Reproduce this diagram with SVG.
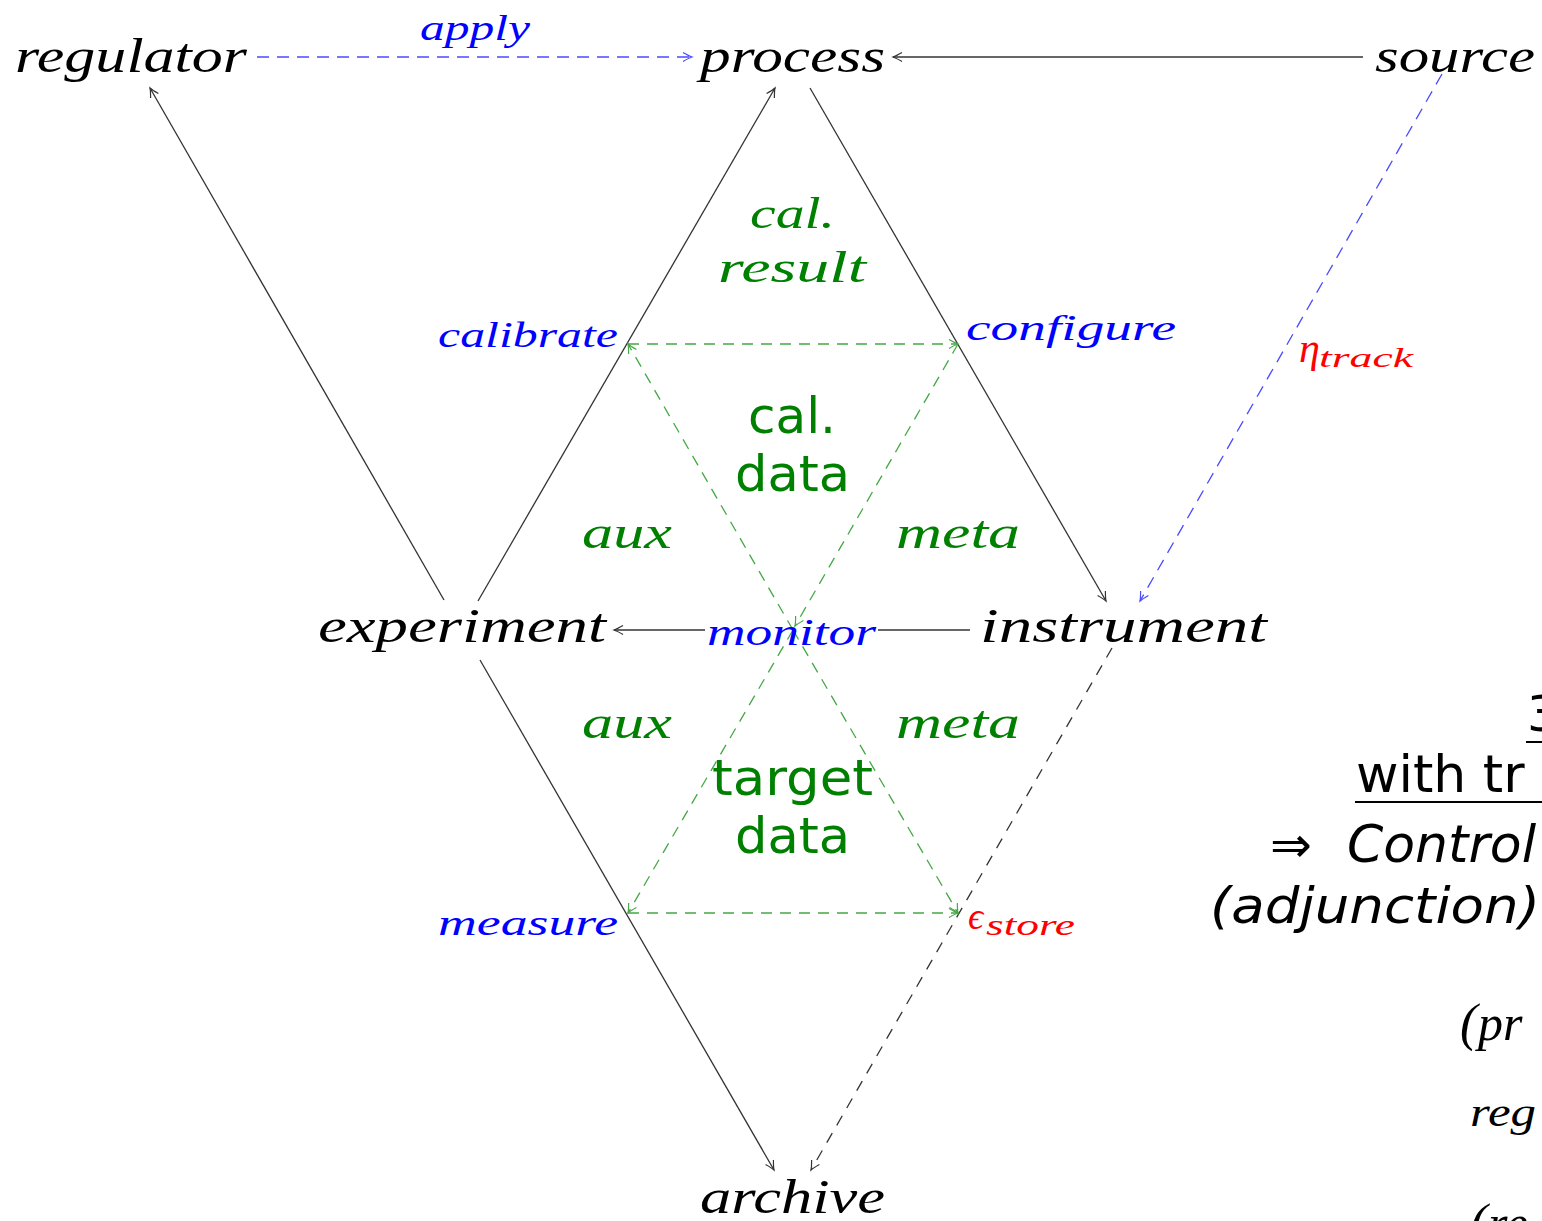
<svg xmlns="http://www.w3.org/2000/svg" width="1542" height="1221" viewBox="0 0 1542 1221">
<style>
.m{font-family:"Liberation Serif","DejaVu Serif",serif;font-style:italic}
.s{font-family:"DejaVu Sans","Liberation Sans",sans-serif}
.k{fill:#000}
.b{fill:#0000ff}
.g{fill:#008000}
.r{fill:#ff0000}
.ln{fill:none;stroke-width:1.3}
.blk{stroke:#333}
.bl{stroke:#4a4aff;stroke-dasharray:12 8}
.gr{stroke:#44a844;stroke-dasharray:11 8}
.bd{stroke:#333;stroke-dasharray:11 9}
</style>
<defs>
<marker id="ak" markerUnits="userSpaceOnUse" orient="auto" refX="0" refY="0" markerWidth="20" markerHeight="20" viewBox="-12 -10 14 20" overflow="visible">
<path d="M-9,-4.5 Q-3,-1 0,0 Q-3,1 -9,4.5" fill="none" stroke="#333" stroke-width="1.2"/>
</marker>
<marker id="ab" markerUnits="userSpaceOnUse" orient="auto" refX="0" refY="0" markerWidth="20" markerHeight="20" viewBox="-12 -10 14 20" overflow="visible">
<path d="M-9,-4.5 Q-3,-1 0,0 Q-3,1 -9,4.5" fill="none" stroke="#4a4aff" stroke-width="1.2"/>
</marker>
<marker id="ag" markerUnits="userSpaceOnUse" orient="auto" refX="0" refY="0" markerWidth="20" markerHeight="20" viewBox="-12 -10 14 20" overflow="visible">
<path d="M-9,-4.5 Q-3,-1 0,0 Q-3,1 -9,4.5" fill="none" stroke="#44a844" stroke-width="1.2"/>
</marker>
</defs>
<rect width="1542" height="1221" fill="#fff"/>
<g id="connectors">
<path class="ln bl" d="M257,57 L692,57" marker-end="url(#ab)"/>
<path class="ln blk" d="M1363,57 L893,57" marker-end="url(#ak)"/>
<path class="ln blk" d="M444,600 L150,88" marker-end="url(#ak)"/>
<path class="ln blk" d="M478,601 L775,88" marker-end="url(#ak)"/>
<path class="ln blk" d="M810,88 L1106,601" marker-end="url(#ak)"/>
<path class="ln bl" d="M1442,74 L1140,601" marker-end="url(#ab)"/>
<path class="ln blk" d="M970,630 L878,630"/>
<path class="ln blk" d="M705,630 L614,630" marker-end="url(#ak)"/>
<path class="ln blk" d="M480,660 L774,1170" marker-end="url(#ak)"/>
<path class="ln bd" d="M1112,648 L811,1170" marker-end="url(#ak)"/>
<path class="ln gr" d="M628,344 L958,344" marker-end="url(#ag)"/>
<path class="ln gr" d="M793,630 L628,344" marker-end="url(#ag)"/>
<path class="ln gr" d="M958,344 L795,626" marker-end="url(#ag)"/>
<path class="ln gr" d="M793,630 L628,913" marker-end="url(#ag)"/>
<path class="ln gr" d="M793,630 L958,913" marker-end="url(#ag)"/>
<path class="ln gr" d="M628,913 L958,913" marker-end="url(#ag)"/>
</g>
<g id="regulator"><text class="m k" x="15" y="72" font-size="48" textLength="232" lengthAdjust="spacingAndGlyphs">regulator</text></g>
<g id="apply"><text class="m b" x="420" y="40" font-size="36" textLength="110" lengthAdjust="spacingAndGlyphs">apply</text></g>
<g id="process"><text class="m k" x="700" y="72" font-size="48" textLength="185" lengthAdjust="spacingAndGlyphs">process</text></g>
<g id="source"><text class="m k" x="1375" y="72" font-size="48" textLength="160" lengthAdjust="spacingAndGlyphs">source</text></g>
<g id="cal-result">
<text class="m g" x="750" y="228" font-size="44" textLength="85" lengthAdjust="spacingAndGlyphs">cal.</text>
<text class="m g" x="718" y="282" font-size="44" textLength="148" lengthAdjust="spacingAndGlyphs">result</text>
</g>
<g id="calibrate"><text class="m b" x="438" y="347" font-size="36" textLength="180" lengthAdjust="spacingAndGlyphs">calibrate</text></g>
<g id="configure"><text class="m b" x="966" y="340" font-size="36" textLength="210" lengthAdjust="spacingAndGlyphs">configure</text></g>
<g id="eta-track">
<text class="m r" x="1299" y="362" font-size="42">η</text>
<text class="m r" x="1319" y="367" font-size="27" textLength="94" lengthAdjust="spacingAndGlyphs">track</text>
</g>
<g id="cal-data">
<text class="s g" x="748" y="433" font-size="50" textLength="88" lengthAdjust="spacingAndGlyphs">cal.</text>
<text class="s g" x="735" y="491" font-size="50" textLength="115" lengthAdjust="spacingAndGlyphs">data</text>
</g>
<g id="aux-top"><text class="m g" x="582" y="548" font-size="46" textLength="90" lengthAdjust="spacingAndGlyphs">aux</text></g>
<g id="meta-top"><text class="m g" x="896" y="548" font-size="46" textLength="124" lengthAdjust="spacingAndGlyphs">meta</text></g>
<g id="experiment"><text class="m k" x="318" y="642" font-size="48" textLength="288" lengthAdjust="spacingAndGlyphs">experiment</text></g>
<g id="monitor"><text class="m b" x="707" y="645" font-size="38" textLength="169" lengthAdjust="spacingAndGlyphs">monitor</text></g>
<g id="instrument"><text class="m k" x="980" y="642" font-size="48" textLength="287" lengthAdjust="spacingAndGlyphs">instrument</text></g>
<g id="aux-bottom"><text class="m g" x="582" y="738" font-size="46" textLength="90" lengthAdjust="spacingAndGlyphs">aux</text></g>
<g id="meta-bottom"><text class="m g" x="896" y="738" font-size="46" textLength="124" lengthAdjust="spacingAndGlyphs">meta</text></g>
<g id="target-data">
<text class="s g" x="712" y="795" font-size="50" textLength="161" lengthAdjust="spacingAndGlyphs">target</text>
<text class="s g" x="735" y="853" font-size="50" textLength="115" lengthAdjust="spacingAndGlyphs">data</text>
</g>
<g id="measure"><text class="m b" x="438" y="935" font-size="36" textLength="180" lengthAdjust="spacingAndGlyphs">measure</text></g>
<g id="epsilon-store">
<text class="m r" x="968" y="929" font-size="38">ϵ</text>
<text class="m r" x="986" y="935" font-size="29" textLength="89" lengthAdjust="spacingAndGlyphs">store</text>
</g>
<g id="archive"><text class="m k" x="700" y="1213" font-size="48" textLength="185" lengthAdjust="spacingAndGlyphs">archive</text></g>
<g id="side-text">
<text class="s k" x="1527" y="731" font-size="50">3</text>
<line x1="1526" y1="742" x2="1542" y2="742" stroke="#000" stroke-width="2"/>
<text class="s k" x="1356" y="792" font-size="52">with tr</text>
<line x1="1355" y1="802" x2="1542" y2="802" stroke="#000" stroke-width="2"/>
<text class="s k" x="1270" y="862" font-size="50">⇒</text>
<text class="s k" x="1347" y="862" font-size="52" font-style="italic">Control</text>
<text class="s k" x="1210" y="923" font-size="50" font-style="italic" textLength="330" lengthAdjust="spacingAndGlyphs">(adjunction)</text>
<text class="m k" x="1460" y="1040" font-size="52" font-style="normal">(</text>
<text class="m k" x="1478" y="1040" font-size="50">pr</text>
<text class="m k" x="1470" y="1126" font-size="40" textLength="66" lengthAdjust="spacingAndGlyphs">reg</text>
<text class="m k" x="1470" y="1240" font-size="52" font-style="normal">(</text>
<text class="m k" x="1488" y="1240" font-size="50">re</text>
</g>
</svg>
